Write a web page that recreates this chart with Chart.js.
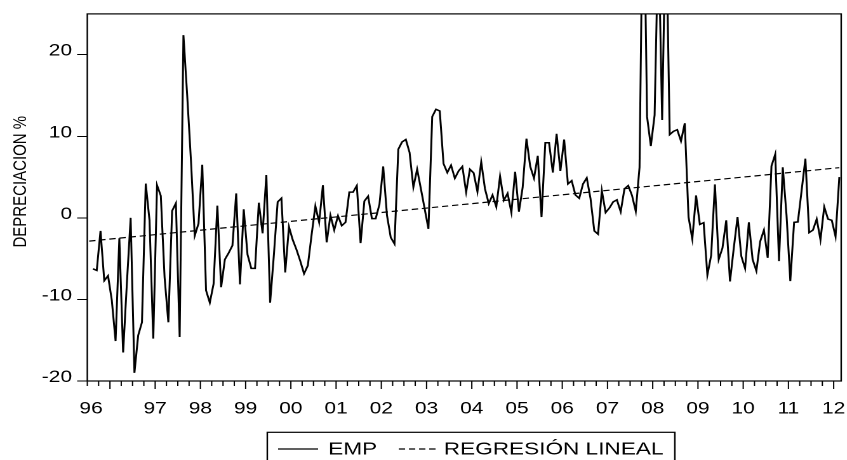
<!DOCTYPE html>
<html>
<head>
<meta charset="utf-8">
<script src="https://cdn.jsdelivr.net/npm/chart.js@4.4.1/dist/chart.umd.min.js"></script>
<style>
  html, body { margin: 0; padding: 0; background: #fff; overflow: hidden; }
  #chart { display: block; }
</style>
</head>
<body>
<!-- the original graph is stretched horizontally, so the canvas is drawn narrow and widened by its style -->
<canvas id="chart" width="671" height="460" style="width:852px;height:460px"></canvas>
<script>
// monthly sample 1996M07 - 2013M02 (first obs is NA)
const startYear = 1996;
const startMonth = 7;
const nMonths = 200;

const months = [];
for (let i = 0; i < nMonths; i++) {
  const m = startMonth - 1 + i;
  months.push((startYear + Math.floor(m / 12)) + 'M' + String(m % 12 + 1).padStart(2, '0'));
}

// EMP, % depreciation
const emp96 = [null, -6.25, -6.45, -1.6, -7.7, -7.1];
const emp97 = [-10.1, -15.1, -2.5, -16.5, -8.0, 0.0, -19.0, -14.4, -12.8, 4.2, -0.3, -14.8];
const emp98 = [4.0, 2.7, -7.3, -12.8, 0.85, 1.8, -14.6, 22.4, 15.0, 7.0, -2.2, -0.7];
const emp99 = [6.5, -8.9, -10.4, -8.1, 1.5, -8.5, -5.1, -4.3, -3.4, 3.0, -8.15, 1.05];
const emp00 = [-4.5, -6.2, -6.2, 1.85, -1.9, 5.25, -10.4, -4.5, 1.95, 2.4, -6.7, -1.1];
const emp01 = [-2.7, -3.9, -5.3, -6.85, -5.85, -2.1, 1.45, -0.55, 4.0, -3.0, 0.3, -1.5];
const emp02 = [0.25, -0.95, -0.55, 3.15, 3.15, 3.95, -3.1, 2.05, 2.65, -0.1, -0.1, 1.65];
const emp03 = [6.3, 0.3, -2.4, -3.2, 8.4, 9.3, 9.6, 8.0, 3.75, 5.95, 3.55, 1.1];
const emp04 = [-1.35, 12.4, 13.3, 13.1, 6.65, 5.55, 6.45, 4.85, 5.75, 6.3, 3.15, 5.95];
const emp05 = [5.5, 3.2, 6.85, 3.55, 1.75, 2.8, 1.35, 5.1, 2.15, 3.0, 0.65, 5.65];
const emp06 = [0.75, 3.75, 9.7, 6.3, 4.85, 7.6, 0.1, 9.2, 9.2, 5.55, 10.3, 5.75];
const emp07 = [9.6, 4.15, 4.55, 2.8, 2.4, 4.15, 4.9, 2.35, -1.6, -2.0, 3.35, 0.65];
const emp08 = [1.2, 1.95, 2.2, 0.75, 3.55, 3.95, 2.75, 0.8, 6.2, 45.0, 12.4, 8.8];
const emp09 = [12.6, 35.0, 12.0, 38.0, 10.2, 10.6, 10.8, 9.4, 11.6, 0.1, -2.6, 2.75];
const emp10 = [-0.8, -0.6, -7.0, -4.6, 4.1, -5.1, -3.7, -0.3, -7.8, -3.7, 0.1, -4.7];
const emp11 = [-6.2, -0.55, -5.1, -6.5, -2.9, -1.5, -4.9, 6.35, 7.8, -5.3, 6.2, 0.3];
const emp12 = [-7.75, -0.55, -0.5, 3.35, 7.25, -1.8, -1.5, -0.15, -2.7, 1.35, -0.15, -0.3];
const emp13 = [-2.3, 5.0];
const emp = [].concat(emp96, emp97, emp98, emp99, emp00, emp01, emp02, emp03, emp04,
  emp05, emp06, emp07, emp08, emp09, emp10, emp11, emp12, emp13);

// fitted trend, value at first and last month
const regression = [-2.85, 6.15];

const yearLabels = ['96', '97', '98', '99', '00', '01', '02', '03', '04', '05', '06', '07', '08', '09', '10', '11', '12'];
const yTicks = [-20, -10, 0, 10, 20];

// year label sits mid year (first year is partial)
const labelAt = {};
yearLabels.forEach((lab, k) => {
  const idx = k === 0 ? 1 : (k * 12 + 7 - startMonth) + 6;
  labelAt[idx] = lab;
});

const FONT = '"Liberation Sans", Arial, sans-serif';
Chart.defaults.font.family = FONT;
Chart.defaults.color = '#000';

const evPlugin = {
  id: 'eviewsFrame',
  afterDraw(chart) {
    const ctx = chart.ctx;
    const a = chart.chartArea;
    const xs = chart.scales.x;
    const slot = xs.getPixelForValue(1) - xs.getPixelForValue(0);
    ctx.save();
    ctx.strokeStyle = '#000';
    ctx.lineWidth = 1.2;
    ctx.strokeRect(a.left, a.top, a.right - a.left, a.bottom - a.top);

    // quarterly ticks under the frame, longer at the start of each year
    ctx.lineWidth = 1;
    for (let i = 0; i < months.length; i++) {
      const mon = (startMonth - 1 + i) % 12;
      if (mon % 3 !== 0) continue;
      const x = xs.getPixelForValue(i) - slot / 2;
      ctx.beginPath();
      ctx.moveTo(x, a.bottom);
      ctx.lineTo(x, a.bottom + (mon === 0 ? 8 : 5));
      ctx.stroke();
    }

    // y axis title
    ctx.fillStyle = '#000';
    ctx.font = '15px ' + FONT;
    ctx.translate(20.5, 181.7);
    ctx.rotate(-Math.PI / 2);
    ctx.textAlign = 'center';
    ctx.textBaseline = 'alphabetic';
    ctx.fillText('DEPRECIACION %', 0, 0);
    ctx.restore();

    // legend box
    ctx.save();
    ctx.font = '17.8px ' + FONT;
    ctx.fillStyle = '#000';
    ctx.strokeStyle = '#000';
    const left = 210.5, top = 432.3, lineY = 449, baseY = 454.3;
    const sampleLen = [31.5, 29];
    const gapBefore = [8.5, 17];
    const gapText = [8, 6.5];
    let x = left;
    chart.data.datasets.forEach((ds, k) => {
      x += gapBefore[k];
      ctx.lineWidth = 1.2;
      ctx.setLineDash(ds.borderDash || []);
      ctx.beginPath();
      ctx.moveTo(x, lineY);
      ctx.lineTo(x + sampleLen[k], lineY);
      ctx.stroke();
      ctx.setLineDash([]);
      x += sampleLen[k] + gapText[k];
      ctx.fillText(ds.label, x, baseY);
      x += ctx.measureText(ds.label).width;
    });
    x += 9;
    ctx.lineWidth = 1.2;
    ctx.strokeRect(left, top, x - left, 40);
    ctx.restore();
  }
};

new Chart(document.getElementById('chart'), {
  type: 'line',
  data: {
    labels: months,
    datasets: [
      {
        label: 'EMP',
        data: emp,
        borderColor: '#000',
        borderWidth: 1.5,
        pointRadius: 0,
        tension: 0,
        clip: 0
      },
      {
        label: 'REGRESIÓN LINEAL',
        data: [{ x: months[0], y: regression[0] }, { x: months[months.length - 1], y: regression[1] }],
        borderColor: '#000',
        borderWidth: 1.2,
        borderDash: [5, 3],
        pointRadius: 0,
        tension: 0,
        clip: 0
      }
    ]
  },
  options: {
    responsive: false,
    devicePixelRatio: 2,
    animation: false,
    events: [],
    layout: { padding: { left: 0, right: 0, top: 9, bottom: 0 } },
    plugins: { legend: { display: false }, tooltip: { enabled: false } },
    scales: {
      x: {
        type: 'category',
        offset: true,
        grid: { display: false },
        border: { display: false },
        ticks: {
          autoSkip: false,
          maxRotation: 0,
          minRotation: 0,
          padding: 10,
          labelOffset: -1.5,
          font: { size: 16.5 },
          color: '#000',
          callback: (v, i) => labelAt[i] || ''
        },
        afterFit: s => { s.height = 79; }
      },
      y: {
        type: 'linear',
        min: -20,
        max: 25,
        afterBuildTicks: s => { s.ticks = yTicks.map(v => ({ value: v })); },
        grid: { drawOnChartArea: false, tickLength: 8, color: '#000', lineWidth: 1 },
        border: { display: false },
        ticks: { padding: 4, labelOffset: -3.5, font: { size: 16.5 }, color: '#000' },
        afterFit: s => { s.width = 68.75; }
      }
    }
  },
  plugins: [evPlugin]
});
</script>
</body>
</html>
